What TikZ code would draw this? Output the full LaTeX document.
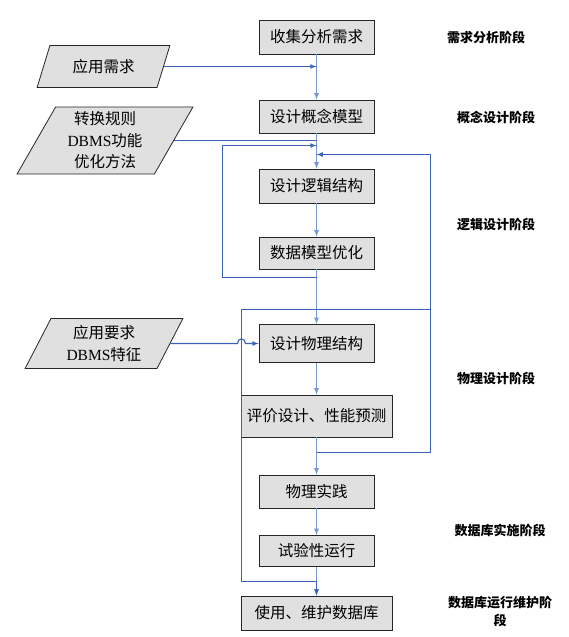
\documentclass[tikz,border=0pt]{standalone}
\usepackage{fontspec}
\setmainfont{Liberation Serif}
\newfontfamily\cjk{Noto Sans CJK SC}
\usetikzlibrary{shapes.geometric}
\definecolor{flowblue}{RGB}{115,152,212}
\definecolor{loopblue}{RGB}{60,98,182}

\begin{document}
\begin{tikzpicture}[x=1pt,y=-1pt,
  stepbox/.style={draw=black!85,fill=black!12,line width=0.8pt,font=\cjk\fontsize{15.5}{20}\selectfont,
    minimum width=115pt,minimum height=34pt,inner sep=0pt},
  widebox/.style={stepbox,minimum width=151pt},
  inbox/.style={trapezium,trapezium left angle=63,trapezium right angle=117,
    trapezium stretches=true,draw=black!85,fill=black!12,line width=0.8pt,
    font=\cjk\fontsize{15.5}{21.5}\selectfont,align=center,inner sep=0pt},
  phase/.style={font=\cjk\bfseries\fontsize{13}{18}\selectfont,align=center},
  flow/.style={flowblue,line width=1.2pt,-latex},
  loop/.style={loopblue,line width=1.15pt}]
\useasboundingbox (0,0) rectangle (569,637);

% main column
\node[stepbox] (b1) at (316.5,37) {收集分析需求};
\node[stepbox,minimum height=33pt] (b2) at (316.5,116.5) {设计概念模型};
\node[stepbox] (b3) at (316.5,186) {设计逻辑结构};
\node[stepbox,minimum height=32pt] (b4) at (316.5,253) {数据模型优化};
\node[stepbox,minimum height=38pt] (b5) at (316.5,343.5) {设计物理结构};
\node[widebox,minimum height=42pt] (b6) at (316.5,416) {评价设计、性能预测};
\node[stepbox,minimum height=33pt] (b7) at (316.5,491.5) {物理实践};
\node[stepbox,minimum height=31pt] (b8) at (316.5,551) {试验性运行};
\node[widebox] (b9) at (316.5,613) {使用、维护数据库};

% inputs
\node[inbox,minimum width=133pt,minimum height=42pt] (in1) at (103.5,66.5) {应用需求};
\node[inbox,minimum width=176pt,minimum height=67pt] (in2) at (105,140.5)
  {转换规则\\{\rmfamily DBMS}功能\\优化方法};
\node[inbox,minimum width=158pt,minimum height=50pt] (in3) at (104,343.5)
  {应用要求\\{\rmfamily DBMS}特征};

% phases
\node[phase] (p1) at (486,37) {需求分析阶段};
\node[phase] (p2) at (496,117) {概念设计阶段};
\node[phase] (p3) at (496,225) {逻辑设计阶段};
\node[phase] (p4) at (496,378) {物理设计阶段};
\node[phase] (p5) at (500,530) {数据库实施阶段};
\node[phase] (p6) at (500,612) {数据库运行维护阶\\段};

% loop corners
\coordinate (lt) at (222.5,145.5);
\coordinate (lb) at (222.5,277.5);
\coordinate (rt) at (430.5,154.5);
\coordinate (rb) at (430.5,452.5);
\coordinate (ot) at (241.5,309.5);
\coordinate (ob) at (241.5,581.5);
\coordinate (hop) at (ot |- b5.west);

\foreach \a/\b in {b1/b2,b2/b3,b3/b4,b4/b5,b5/b6,b6/b7,b7/b8,b8/b9}
  \draw[flow] (\a) -- (\b);

\draw[loop,-latex] (in1.east) -- (in1.east -| b1.south);
\draw[loop] (in2.east) -- (in2.east -| b2.south);
\draw[loop,-latex] (lb -| b4.south) -- (lb) -- (lt) -- (lt -| b2.south);
\draw[loop,-latex] (rb -| b6.south) -- (rb) -- (rt) -- (rt -| b2.south);
\draw[loop,-latex] (ot -| rt) -- (ot) -- (ob) -- (ob -| b9.north) -- (b9.north);
\draw[loop,-latex] (in3.east) -- ([xshift=-4pt]hop)
  .. controls +(0,-6) and +(0,-6) .. ([xshift=4pt]hop) -- (b5.west);

\end{tikzpicture}
\end{document}
